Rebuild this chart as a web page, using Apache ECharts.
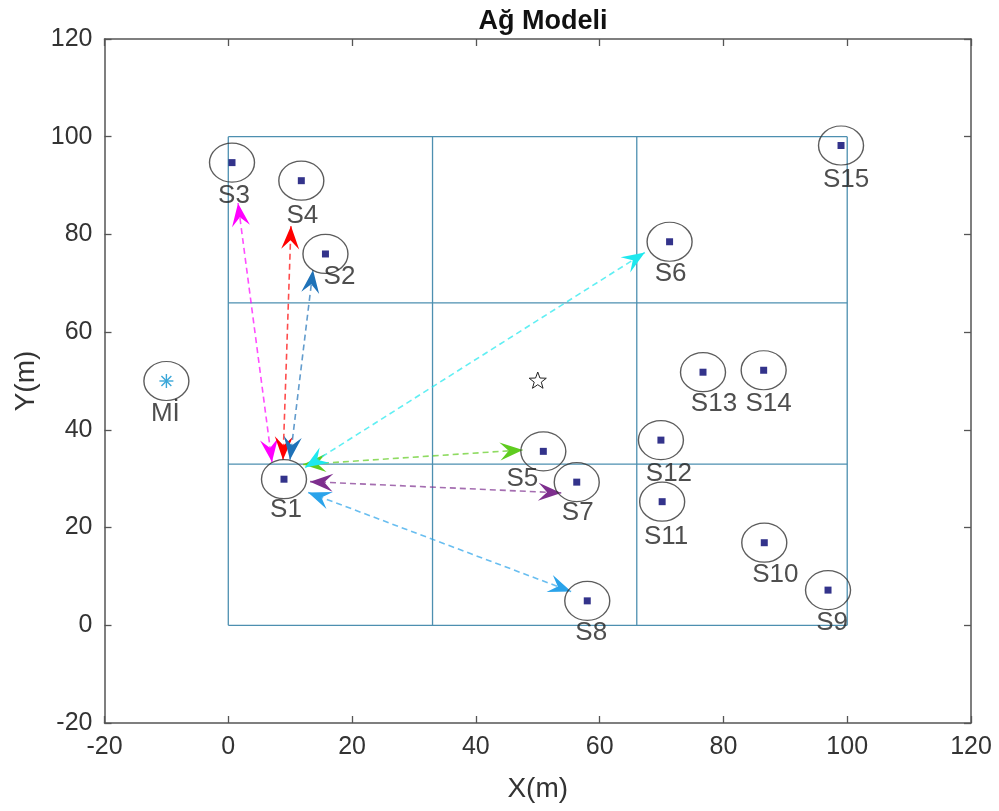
<!DOCTYPE html>
<html><head><meta charset="utf-8">
<script src="https://cdn.jsdelivr.net/npm/echarts@6/dist/echarts.min.js"></script>
<style>html,body{margin:0;padding:0;background:#fff}#c{width:999px;height:811px}</style>
</head><body><div id="c"></div><script>
// ---- data ----
const nodeNames = ['S1','S2','S3','S4','S5','S6','S7','S8','S9','S10','S11','S12','S13','S14','S15'];
const nodeX = [9.0, 15.7, 0.6, 11.8, 50.9, 71.3, 56.3, 58.0, 96.9, 86.6, 70.1, 69.9, 76.7, 86.5, 99.0];
const nodeY = [29.9, 76.0, 94.7, 91.0, 35.6, 78.5, 29.3, 5.0, 7.2, 16.9, 25.3, 37.9, 51.8, 52.2, 98.2];
const sinkName = 'Mİ';
const sinkX = -10;
const sinkY = 50;
const centerX = 50;
const centerY = 50;
const cellEdges = [0, 33, 66, 100];
const axisTicks = [-20, 0, 20, 40, 60, 80, 100, 120];
// arrows between S1 and its neighbours (both ends)
const arrowTargets = ['S3','S4','S2','S5','S7','S8','S6'];
const arrowStartX = [7.06, 8.84, 9.97, 12.07, 13.2, 12.9, 12.4];
const arrowStartY = [33.4, 33.9, 33.9, 32.9, 29.4, 27.2, 32.3];
const arrowEndX = [1.57, 10.13, 13.69, 47.6, 53.8, 55.4, 67.3];
const arrowEndY = [86.4, 81.7, 72.7, 35.9, 27.1, 6.9, 76.3];

// ---- styles / layout ----
const arrowColors = ['#ff00ff', '#ff0000', '#1f72b8', '#5fcc1f', '#7e2f8e', '#2aa3ea', '#1ee8ee'];
const labelOffsets = [[2,31],[14,23],[2,33],[1,35],[-21,27],[1,32],[1,31],[4,32],[4,33],[11,32],[4,35],[8,34],[11,32],[5,34],[5,34]];
const sinkLabelOffset = [-1, 33];
const FONT = 'Liberation Sans, Arial, sans-serif';
const axisColor = '#555';
const cellColor = '#4d8fb0';

const chart = echarts.init(document.getElementById('c'));

const series = [];
// cell partition lines
cellEdges.forEach(c => {
  series.push({type:'line', data:[[c,0],[c,100]], symbol:'none', silent:true, lineStyle:{color:cellColor, width:1.3}, z:1});
  series.push({type:'line', data:[[0,c],[100,c]], symbol:'none', silent:true, lineStyle:{color:cellColor, width:1.3}, z:1});
});

// arrows
series.push({
  type:'custom', coordinateSystem:'cartesian2d', z:3, silent:true,
  data: arrowStartX.map((x,i)=>[x, arrowStartY[i], arrowEndX[i], arrowEndY[i], i]),
  encode:{x:[0,2], y:[1,3]},
  renderItem(params, api){
    const p1 = api.coord([api.value(0), api.value(1)]);
    const p2 = api.coord([api.value(2), api.value(3)]);
    const c = arrowColors[api.value(4)];
    const L = 23, W = 9, N = 0.62;
    const head = (tip, from) => {
      let dx = tip[0]-from[0], dy = tip[1]-from[1];
      const d = Math.hypot(dx,dy); dx/=d; dy/=d;
      const nx = -dy, ny = dx;
      return {type:'polygon', shape:{points:[
        [tip[0], tip[1]],
        [tip[0]-L*dx+W*nx, tip[1]-L*dy+W*ny],
        [tip[0]-N*L*dx, tip[1]-N*L*dy],
        [tip[0]-L*dx-W*nx, tip[1]-L*dy-W*ny]
      ]}, style:{fill:c}};
    };
    return {type:'group', children:[
      {type:'line', shape:{x1:p1[0],y1:p1[1],x2:p2[0],y2:p2[1]}, style:{stroke:c, lineWidth:1.6, lineDash:[6,4], opacity:0.7}},
      head(p1,p2), head(p2,p1)
    ]};
  }
});

// ellipses around nodes and sink
series.push({
  type:'scatter', z:4, silent:true,
  data: nodeX.map((x,i)=>[x,nodeY[i]]).concat([[sinkX,sinkY]]),
  symbol:'circle', symbolSize:[45,39],
  itemStyle:{color:'rgba(0,0,0,0)', borderColor:'#333', borderWidth:1.3}
});
// node squares
series.push({
  type:'scatter', z:5, silent:true,
  data: nodeX.map((x,i)=>[x,nodeY[i]]),
  symbol:'rect', symbolSize:7,
  itemStyle:{color:'#00006e'}
});
// node labels
series.push({
  type:'scatter', z:6, silent:true,
  data: nodeX.map((x,i)=>({value:[x,nodeY[i]], name:nodeNames[i], label:{offset:labelOffsets[i]}})).concat([
    {value:[sinkX,sinkY], name:sinkName, label:{offset:sinkLabelOffset}}]),
  symbolSize:1, itemStyle:{color:'rgba(0,0,0,0)'},
  label:{show:true, position:'inside', formatter:p=>p.name, fontSize:26, color:'#222', fontFamily:FONT}
});
// sink asterisk
series.push({
  type:'custom', coordinateSystem:'cartesian2d', z:5, silent:true,
  data:[[sinkX,sinkY]],
  renderItem(params, api){
    const p = api.coord([api.value(0), api.value(1)]);
    const r = 7, s = r*0.7071;
    const st = {stroke:'#3aa6d8', lineWidth:1.4};
    return {type:'group', children:[
      {type:'line', shape:{x1:p[0]-r,y1:p[1],x2:p[0]+r,y2:p[1]}, style:st},
      {type:'line', shape:{x1:p[0],y1:p[1]-r,x2:p[0],y2:p[1]+r}, style:st},
      {type:'line', shape:{x1:p[0]-s,y1:p[1]-s,x2:p[0]+s,y2:p[1]+s}, style:st},
      {type:'line', shape:{x1:p[0]-s,y1:p[1]+s,x2:p[0]+s,y2:p[1]-s}, style:st}
    ]};
  }
});
// centre pentagram
series.push({
  type:'custom', coordinateSystem:'cartesian2d', z:5, silent:true,
  data:[[centerX,centerY]],
  renderItem(params, api){
    const p = api.coord([api.value(0), api.value(1)]);
    const pts = [];
    for (let k=0;k<10;k++){
      const r = k%2===0 ? 9 : 3.7;
      const a = -Math.PI/2 + k*Math.PI/5;
      pts.push([p[0]+r*Math.cos(a), p[1]+r*Math.sin(a)]);
    }
    return {type:'polygon', shape:{points:pts}, style:{fill:'none', stroke:'#222', lineWidth:1}};
  }
});

const axisCommon = {
  type:'value', min:-20, max:120, interval:20,
  axisLine:{show:true, onZero:false, lineStyle:{color:axisColor, width:1.5}},
  axisTick:{show:true, inside:true, length:7, lineStyle:{color:axisColor, width:1.3}},
  splitLine:{show:false}
};
const labelStyle = {fontSize:25, color:'#333', fontFamily:FONT};

chart.setOption({
  animation:false,
  backgroundColor:'#fff',
  title:{text:'Ağ Modeli', left:538, top:3, textAlign:'center', textStyle:{fontSize:27, fontWeight:'bold', color:'#111', fontFamily:FONT}},
  grid:{left:104.5, right:28, top:39, bottom:88, containLabel:false},
  xAxis:[
    Object.assign({}, axisCommon, {position:'bottom', name:'X(m)', nameLocation:'middle', nameGap:52,
      nameTextStyle:{fontSize:28, color:'#333', fontFamily:FONT},
      axisLabel:Object.assign({margin:12, formatter:v=>axisTicks.includes(v)?String(v):''}, labelStyle)}),
    Object.assign({}, axisCommon, {position:'top', axisLabel:{show:false}})
  ],
  yAxis:[
    Object.assign({}, axisCommon, {position:'left', name:'Y(m)', nameLocation:'middle', nameGap:64,
      nameTextStyle:{fontSize:28, color:'#333', fontFamily:FONT},
      axisLabel:Object.assign({margin:12, formatter:v=>axisTicks.includes(v)?String(v):''}, labelStyle)}),
    Object.assign({}, axisCommon, {position:'right', axisLabel:{show:false}})
  ],
  series: series
});
</script></body></html>
